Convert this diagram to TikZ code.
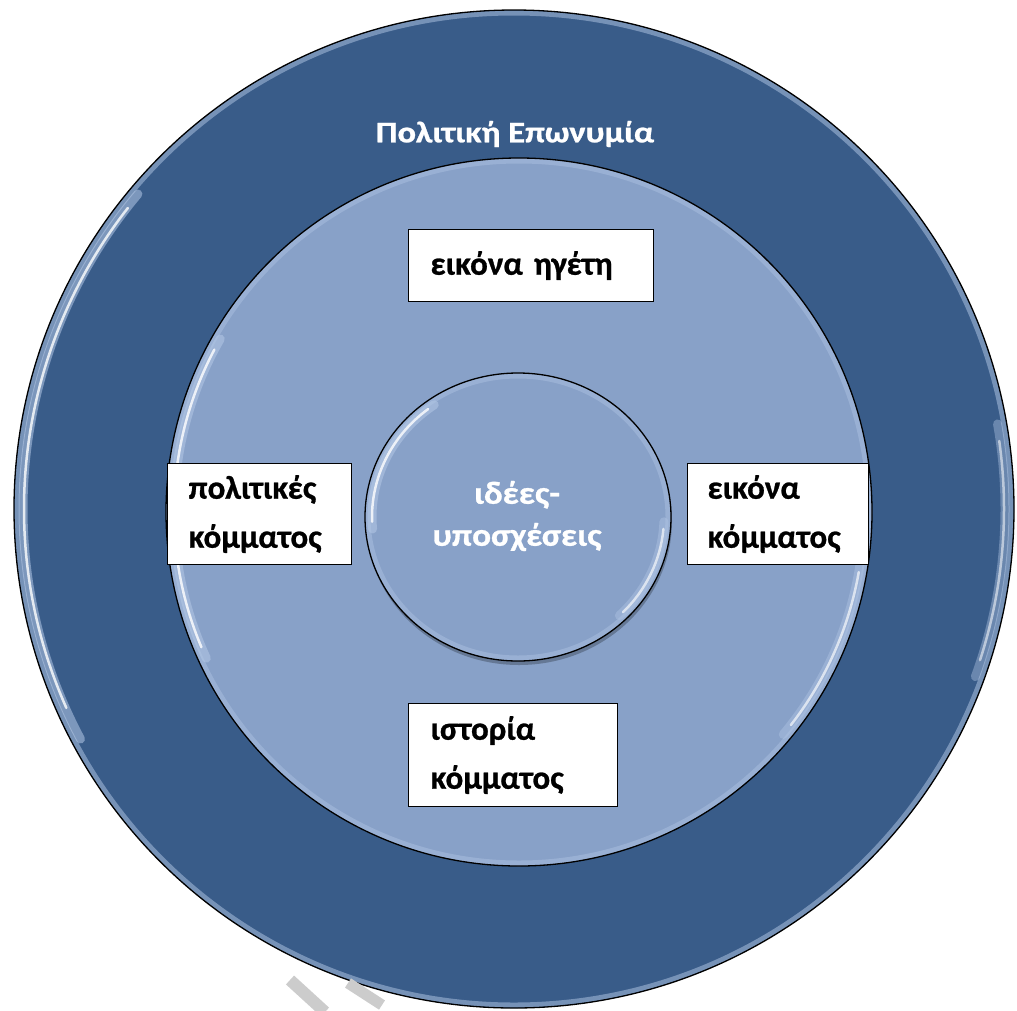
\documentclass[tikz,border=0pt]{standalone}
\usepackage{fontspec}
\setmainfont{Carlito}[BoldFeatures={FakeBold=0.8}]
\definecolor{darkring}{HTML}{395C89}
\definecolor{lightring}{HTML}{88A1C8}
\definecolor{rimglow}{HTML}{B4C8E6}
\definecolor{markgray}{HTML}{CCCCCC}
\begin{document}
\begin{tikzpicture}[x=1pt,y=-1pt,
  disc/.style={draw=black, line width=1.3pt},
  glint/.style={draw=white, line width=2.5pt, opacity=0.8, line cap=round},
  glow/.style={draw=rimglow, line width=9pt, opacity=0.55, line cap=round},
  rim/.style={draw=rimglow, line width=5pt, opacity=0.5},
  box/.style={draw=black, line width=1.1pt, fill=white, anchor=north west,
    inner ysep=0pt, align=left, font=\bfseries\fontsize{33}{49}\selectfont},
  lbl/.style={text=white, font=\bfseries\fontsize{32}{42}\selectfont, align=center, xscale=1.1}
]
\useasboundingbox (0,0) rectangle (1017,1010);

% outer ring
\fill[darkring] (514,509) ellipse [x radius=500, y radius=499];
\draw[rim] (514,509) ellipse [x radius=497, y radius=496];
\draw[glow] (514,509) ++(152:491 and 490) arc[start angle=152, end angle=220, x radius=491, y radius=490];
\draw[glint] (514,509) ++(156:490 and 489) arc[start angle=156, end angle=218, x radius=490, y radius=489];
\draw[glow, opacity=0.4] (514,509) ++(-10:491 and 490) arc[start angle=-10, end angle=20, x radius=491, y radius=490];
\draw[glint, opacity=0.55] (514,509) ++(-8:490 and 489) arc[start angle=-8, end angle=18, x radius=490, y radius=489];
\draw[disc] (514,509) ellipse [x radius=500, y radius=499];
\coordinate (outer) at (514,509);

% middle ring
\fill[lightring] (519,512) ellipse [x radius=353, y radius=354];
\draw[rim, opacity=0.4] (519,512) ellipse [x radius=350, y radius=351];
\draw[glow] (519,512) ++(155:345 and 346) arc[start angle=155, end angle=210, x radius=345, y radius=346];
\draw[glint] (519,512) ++(157:345 and 346) arc[start angle=157, end angle=208, x radius=345, y radius=346];
\draw[glow, opacity=0.4] (519,512) ++(8:345 and 346) arc[start angle=8, end angle=40, x radius=345, y radius=346];
\draw[glint, opacity=0.65] (519,512) ++(10:345 and 346) arc[start angle=10, end angle=38, x radius=345, y radius=346];
\draw[disc] (519,512) ellipse [x radius=353, y radius=354];
\coordinate (middle) at (519,512);

% inner disc with a soft shadow
\fill[black, opacity=0.25] (519,521) ellipse [x radius=153, y radius=144];
\fill[lightring] (518,517) ellipse [x radius=153, y radius=144];
\draw[rim, opacity=0.4] (518,517) ellipse [x radius=150, y radius=141];
\draw[glow] (518,517) ++(175:146 and 137) arc[start angle=175, end angle=235, x radius=146, y radius=137];
\draw[glint] (518,517) ++(178:146 and 137) arc[start angle=178, end angle=232, x radius=146, y radius=137];
\draw[glow, opacity=0.4] (518,517) ++(2:146 and 137) arc[start angle=2, end angle=46, x radius=146, y radius=137];
\draw[glint, opacity=0.65] (518,517) ++(5:146 and 137) arc[start angle=5, end angle=44, x radius=146, y radius=137];
\draw[disc] (518,517) ellipse [x radius=153, y radius=144];

% labels
\node[text=white, font=\bfseries\fontsize{30}{34}\selectfont, xscale=1.15] (title) at (515,134) {Πολιτική Επωνυμία};
\node[lbl] (ideas) at (517,516) {ιδέες-\\υποσχέσεις};

\node[box, minimum width=245pt, minimum height=72pt, inner xsep=22pt, text width=201pt] (leader) at (408,229) {εικόνα ηγέτη};
\node[box, minimum width=184pt, minimum height=101pt, inner xsep=21pt, text width=142pt] (policies) at (167,463) {πολιτικές\\κόμματος};
\node[box, minimum width=181pt, minimum height=101pt, inner xsep=20pt, text width=141pt] (partyimg) at (687,463) {εικόνα\\κόμματος};
\node[box, minimum width=209pt, minimum height=103pt, inner xsep=22pt, text width=165pt] (history) at (408,703) {ιστορία\\κόμματος};

% faint grey strokes along the lower edge
\draw[markgray, line width=12pt] (290,980) -- (325,1012);
\draw[markgray, line width=11pt] (348,983) -- (382,1005);
\end{tikzpicture}
\end{document}
